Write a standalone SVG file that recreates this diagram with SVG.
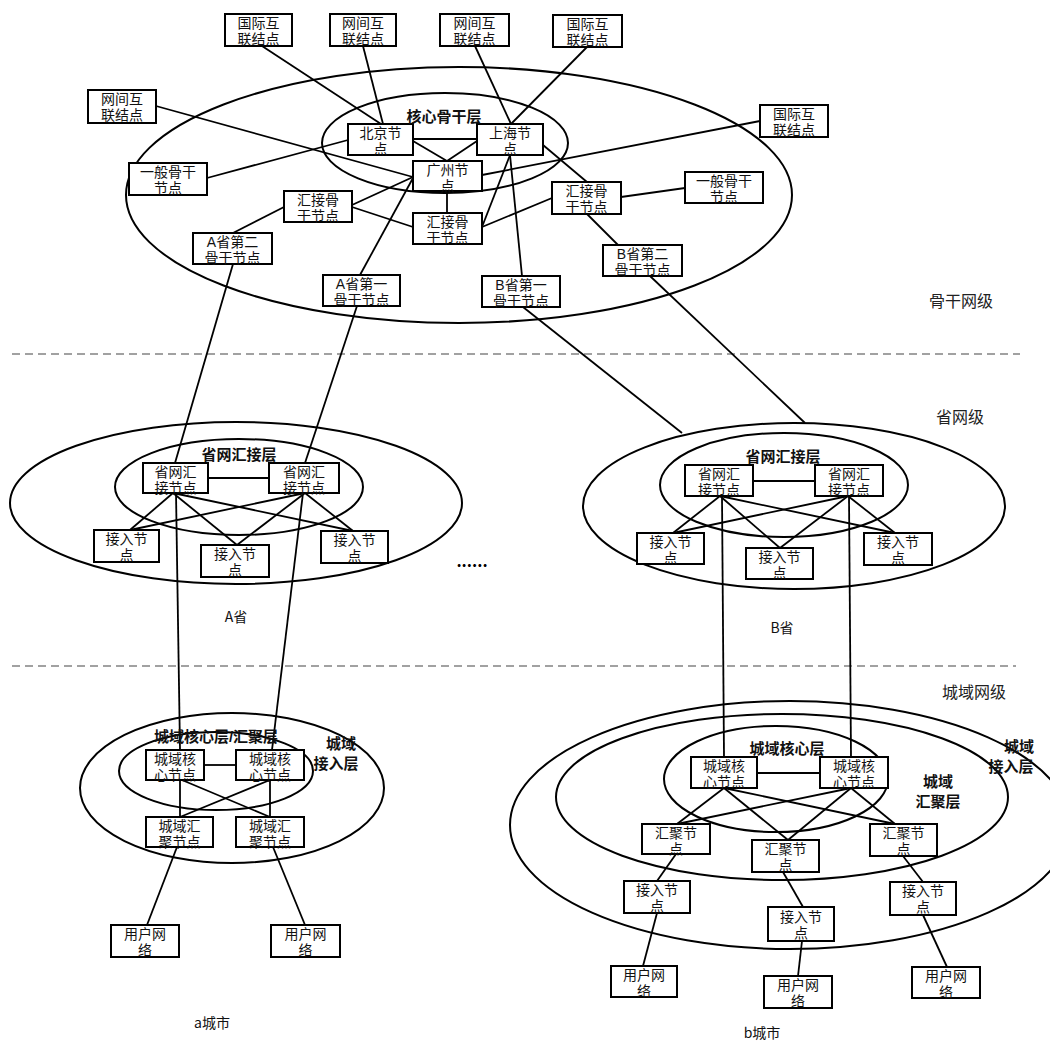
<svg xmlns="http://www.w3.org/2000/svg" width="1050" height="1042" viewBox="0 0 1050 1042">
<style>
.bg{fill:#fff}
.e{fill:none;stroke:#000;stroke-width:2}
.c line{stroke:#000;stroke-width:1.8}
.n rect{fill:#fff;stroke:#000;stroke-width:2}
.n text{font-family:"Liberation Sans","Noto Sans CJK SC",sans-serif;font-size:14px;text-anchor:middle;fill:#111}
.lay{font-family:"Liberation Sans","Noto Sans CJK SC",sans-serif;font-size:15px;font-weight:bold;text-anchor:middle;fill:#111}
.lvl{font-family:"Noto Sans CJK SC",sans-serif;font-size:16px;text-anchor:middle;fill:#222}
.cap{font-family:"Noto Sans CJK SC",sans-serif;font-size:14px;text-anchor:middle;fill:#111}
.d{stroke:#444;stroke-width:1.2;stroke-dasharray:8 5}
</style>
<rect class="bg" x="0" y="0" width="1050" height="1042"/>

<g id="regions">
<ellipse class="e" cx="459" cy="195" rx="333" ry="128"/>
<ellipse class="e" cx="445" cy="143" rx="123" ry="50"/>
<ellipse class="e" cx="236" cy="503" rx="226" ry="81"/>
<ellipse class="e" cx="239" cy="487" rx="124" ry="48"/>
<ellipse class="e" cx="794" cy="506" rx="211" ry="83"/>
<ellipse class="e" cx="784" cy="485" rx="124" ry="52"/>
<ellipse class="e" cx="232" cy="788" rx="152" ry="75"/>
<ellipse class="e" cx="216" cy="771" rx="97" ry="39"/>
<ellipse class="e" cx="790" cy="825" rx="280" ry="124"/>
<ellipse class="e" cx="782" cy="797" rx="226" ry="83"/>
<ellipse class="e" cx="776" cy="779" rx="112" ry="53"/>
</g>

<g id="dividers">
<line class="d" x1="12" y1="354" x2="1020" y2="354"/>
<line class="d" x1="12" y1="666" x2="1016" y2="666"/>
</g>

<g id="connectors" class="c">
<line x1="262" y1="46" x2="381" y2="124"/>
<line x1="363" y1="46" x2="383" y2="124"/>
<line x1="475" y1="46" x2="511" y2="124"/>
<line x1="587" y1="47" x2="511" y2="124"/>
<line x1="156" y1="106" x2="413" y2="177"/>
<line x1="207" y1="178" x2="348" y2="140"/>
<line x1="413" y1="139" x2="477" y2="139"/>
<line x1="413" y1="141" x2="447" y2="161"/>
<line x1="477" y1="141" x2="447" y2="161"/>
<line x1="447" y1="191" x2="447" y2="213"/>
<line x1="352" y1="205" x2="413" y2="177"/>
<line x1="352" y1="207" x2="413" y2="227"/>
<line x1="284" y1="207" x2="233" y2="233"/>
<line x1="413" y1="178" x2="360" y2="275"/>
<line x1="510" y1="155" x2="482" y2="227"/>
<line x1="510" y1="155" x2="522" y2="276"/>
<line x1="543" y1="145" x2="587" y2="182"/>
<line x1="587" y1="214" x2="618" y2="245"/>
<line x1="482" y1="175" x2="760" y2="121"/>
<line x1="482" y1="227" x2="552" y2="198"/>
<line x1="621" y1="197" x2="685" y2="188"/>
<line x1="233" y1="264" x2="175" y2="463"/>
<line x1="357" y1="306" x2="305" y2="463"/>
<line x1="523" y1="307" x2="682" y2="433"/>
<line x1="650" y1="276" x2="805" y2="423"/>
<line x1="208" y1="478" x2="269" y2="478"/>
<line x1="173" y1="493" x2="130" y2="530"/>
<line x1="173" y1="493" x2="237" y2="545"/>
<line x1="173" y1="493" x2="353" y2="531"/>
<line x1="305" y1="493" x2="130" y2="530"/>
<line x1="305" y1="493" x2="237" y2="545"/>
<line x1="305" y1="493" x2="353" y2="531"/>
<line x1="176" y1="493" x2="180" y2="750"/>
<line x1="303" y1="493" x2="272" y2="750"/>
<line x1="753" y1="481" x2="815" y2="481"/>
<line x1="720" y1="496" x2="673" y2="533"/>
<line x1="720" y1="496" x2="780" y2="548"/>
<line x1="720" y1="496" x2="895" y2="533"/>
<line x1="848" y1="496" x2="673" y2="533"/>
<line x1="848" y1="496" x2="780" y2="548"/>
<line x1="848" y1="496" x2="895" y2="533"/>
<line x1="722" y1="496" x2="724" y2="757"/>
<line x1="849" y1="496" x2="851" y2="757"/>
<line x1="204" y1="765" x2="236" y2="765"/>
<line x1="180" y1="780" x2="180" y2="817"/>
<line x1="182" y1="780" x2="270" y2="817"/>
<line x1="270" y1="780" x2="180" y2="817"/>
<line x1="270" y1="780" x2="270" y2="817"/>
<line x1="177" y1="847" x2="147" y2="925"/>
<line x1="273" y1="847" x2="305" y2="925"/>
<line x1="757" y1="773" x2="820" y2="773"/>
<line x1="724" y1="788" x2="677" y2="824"/>
<line x1="724" y1="788" x2="788" y2="840"/>
<line x1="724" y1="788" x2="895" y2="824"/>
<line x1="851" y1="788" x2="677" y2="824"/>
<line x1="851" y1="788" x2="788" y2="840"/>
<line x1="851" y1="788" x2="895" y2="824"/>
<line x1="676" y1="854" x2="657" y2="881"/>
<line x1="783" y1="872" x2="803" y2="907"/>
<line x1="903" y1="856" x2="923" y2="882"/>
<line x1="657" y1="913" x2="643" y2="966"/>
<line x1="802" y1="941" x2="798" y2="976"/>
<line x1="923" y1="915" x2="947" y2="967"/>
</g>

<g class="n">
<g id="n-intl-1"><rect x="225" y="14" width="67" height="32"/><text x="258.5" y="28">国际互<tspan x="258.5" dy="16">联结点</tspan></text></g>
<g id="n-inter-1"><rect x="330" y="14" width="66" height="32"/><text x="363" y="28">网间互<tspan x="363" dy="16">联结点</tspan></text></g>
<g id="n-inter-2"><rect x="440" y="14" width="69" height="32"/><text x="474.5" y="28">网间互<tspan x="474.5" dy="16">联结点</tspan></text></g>
<g id="n-intl-2"><rect x="553" y="15" width="69" height="32"/><text x="587.5" y="29">国际互<tspan x="587.5" dy="16">联结点</tspan></text></g>
<g id="n-inter-3"><rect x="88" y="90" width="68" height="33"/><text x="122" y="104">网间互<tspan x="122" dy="16">联结点</tspan></text></g>
<g id="n-beijing"><rect x="348" y="124" width="65" height="31"/><text x="380.5" y="138">北京节<tspan x="380.5" dy="16">点</tspan></text></g>
<g id="n-shanghai"><rect x="477" y="124" width="66" height="31"/><text x="510" y="138">上海节<tspan x="510" dy="16">点</tspan></text></g>
<g id="n-guangzhou"><rect x="413" y="161" width="69" height="30"/><text x="447.5" y="175">广州节<tspan x="447.5" dy="16">点</tspan></text></g>
<g id="n-hub-c"><rect x="413" y="213" width="69" height="31"/><text x="447.5" y="227">汇接骨<tspan x="447.5" dy="16">干节点</tspan></text></g>
<g id="n-hub-l"><rect x="284" y="191" width="68" height="31"/><text x="318" y="205">汇接骨<tspan x="318" dy="16">干节点</tspan></text></g>
<g id="n-hub-r"><rect x="552" y="182" width="69" height="32"/><text x="586.5" y="196">汇接骨<tspan x="586.5" dy="16">干节点</tspan></text></g>
<g id="n-gen-l"><rect x="129" y="163" width="78" height="32"/><text x="168" y="177">一般骨干<tspan x="168" dy="16">节点</tspan></text></g>
<g id="n-gen-r"><rect x="685" y="172" width="78" height="31"/><text x="724" y="186">一般骨干<tspan x="724" dy="16">节点</tspan></text></g>
<g id="n-intl-3"><rect x="760" y="105" width="68" height="32"/><text x="794" y="119">国际互<tspan x="794" dy="16">联结点</tspan></text></g>
<g id="n-a2"><rect x="193" y="233" width="79" height="31"/><text x="232.5" y="247">A省第二<tspan x="232.5" dy="16">骨干节点</tspan></text></g>
<g id="n-a1"><rect x="323" y="275" width="77" height="31"/><text x="361.5" y="289">A省第一<tspan x="361.5" dy="16">骨干节点</tspan></text></g>
<g id="n-b1"><rect x="482" y="276" width="78" height="31"/><text x="521" y="290">B省第一<tspan x="521" dy="16">骨干节点</tspan></text></g>
<g id="n-b2"><rect x="603" y="245" width="79" height="31"/><text x="642.5" y="259">B省第二<tspan x="642.5" dy="16">骨干节点</tspan></text></g>

<g id="pa-hub-l"><rect x="143" y="463" width="65" height="30"/><text x="175.5" y="477">省网汇<tspan x="175.5" dy="16">接节点</tspan></text></g>
<g id="pa-hub-r"><rect x="269" y="463" width="70" height="30"/><text x="304" y="477">省网汇<tspan x="304" dy="16">接节点</tspan></text></g>
<g id="pa-acc-1"><rect x="94" y="530" width="65" height="32"/><text x="126.5" y="544">接入节<tspan x="126.5" dy="16">点</tspan></text></g>
<g id="pa-acc-2"><rect x="201" y="545" width="68" height="32"/><text x="235" y="559">接入节<tspan x="235" dy="16">点</tspan></text></g>
<g id="pa-acc-3"><rect x="321" y="531" width="67" height="32"/><text x="354.5" y="545">接入节<tspan x="354.5" dy="16">点</tspan></text></g>

<g id="pb-hub-l"><rect x="685" y="465" width="68" height="31"/><text x="719" y="479">省网汇<tspan x="719" dy="16">接节点</tspan></text></g>
<g id="pb-hub-r"><rect x="815" y="465" width="68" height="31"/><text x="849" y="479">省网汇<tspan x="849" dy="16">接节点</tspan></text></g>
<g id="pb-acc-1"><rect x="637" y="533" width="67" height="31"/><text x="670.5" y="547">接入节<tspan x="670.5" dy="16">点</tspan></text></g>
<g id="pb-acc-2"><rect x="746" y="548" width="67" height="31"/><text x="779.5" y="562">接入节<tspan x="779.5" dy="16">点</tspan></text></g>
<g id="pb-acc-3"><rect x="864" y="533" width="68" height="32"/><text x="898" y="547">接入节<tspan x="898" dy="16">点</tspan></text></g>

<g id="ca-core-l"><rect x="146" y="750" width="58" height="30"/><text x="175" y="764">城域核<tspan x="175" dy="16">心节点</tspan></text></g>
<g id="ca-core-r"><rect x="236" y="750" width="68" height="30"/><text x="270" y="764">城域核<tspan x="270" dy="16">心节点</tspan></text></g>
<g id="ca-agg-l"><rect x="146" y="817" width="67" height="30"/><text x="179.5" y="831">城域汇<tspan x="179.5" dy="16">聚节点</tspan></text></g>
<g id="ca-agg-r"><rect x="236" y="817" width="68" height="30"/><text x="270" y="831">城域汇<tspan x="270" dy="16">聚节点</tspan></text></g>
<g id="ca-user-l"><rect x="111" y="925" width="68" height="32"/><text x="145" y="939">用户网<tspan x="145" dy="16">络</tspan></text></g>
<g id="ca-user-r"><rect x="271" y="925" width="69" height="32"/><text x="305.5" y="939">用户网<tspan x="305.5" dy="16">络</tspan></text></g>

<g id="cb-core-l"><rect x="691" y="757" width="66" height="31"/><text x="724" y="771">城域核<tspan x="724" dy="16">心节点</tspan></text></g>
<g id="cb-core-r"><rect x="820" y="757" width="68" height="31"/><text x="854" y="771">城域核<tspan x="854" dy="16">心节点</tspan></text></g>
<g id="cb-agg-1"><rect x="642" y="824" width="68" height="30"/><text x="676" y="838">汇聚节<tspan x="676" dy="16">点</tspan></text></g>
<g id="cb-agg-2"><rect x="752" y="840" width="67" height="32"/><text x="785.5" y="854">汇聚节<tspan x="785.5" dy="16">点</tspan></text></g>
<g id="cb-agg-3"><rect x="870" y="824" width="67" height="32"/><text x="903.5" y="838">汇聚节<tspan x="903.5" dy="16">点</tspan></text></g>
<g id="cb-acc-1"><rect x="624" y="881" width="66" height="32"/><text x="657" y="895">接入节<tspan x="657" dy="16">点</tspan></text></g>
<g id="cb-acc-2"><rect x="768" y="907" width="66" height="34"/><text x="801" y="922">接入节<tspan x="801" dy="16">点</tspan></text></g>
<g id="cb-acc-3"><rect x="890" y="882" width="66" height="33"/><text x="923" y="896">接入节<tspan x="923" dy="16">点</tspan></text></g>
<g id="cb-user-1"><rect x="611" y="966" width="66" height="31"/><text x="644" y="980">用户网<tspan x="644" dy="16">络</tspan></text></g>
<g id="cb-user-2"><rect x="764" y="976" width="68" height="32"/><text x="798" y="990">用户网<tspan x="798" dy="16">络</tspan></text></g>
<g id="cb-user-3"><rect x="912" y="967" width="68" height="31"/><text x="946" y="981">用户网<tspan x="946" dy="16">络</tspan></text></g>
</g>

<g id="labels">
<text class="lay" x="444" y="122">核心骨干层</text>
<text class="lay" x="239" y="460">省网汇接层</text>
<text class="lay" x="783" y="462">省网汇接层</text>
<text class="lay" x="216" y="742">城域核心层/汇聚层</text>
<text class="lay" x="341" y="749">城域<tspan x="336" dy="20">接入层</tspan></text>
<text class="lay" x="787" y="754">城域核心层</text>
<text class="lay" x="938" y="787">城域<tspan x="938" dy="20">汇聚层</tspan></text>
<text class="lay" x="1019" y="752">城域<tspan x="1011" dy="20">接入层</tspan></text>
<text class="lvl" x="961" y="307">骨干网级</text>
<text class="lvl" x="960" y="423">省网级</text>
<text class="lvl" x="974" y="698">城域网级</text>
<text class="cap" x="236" y="622">A省</text>
<text class="cap" x="782" y="633">B省</text>
<text class="cap" x="212" y="1028">a城市</text>
<text class="cap" x="762" y="1038">b城市</text>
<text x="472" y="567" style="font-family:'Noto Sans CJK SC',sans-serif;font-size:16px;font-weight:bold;text-anchor:middle">......</text>
</g>
</svg>
